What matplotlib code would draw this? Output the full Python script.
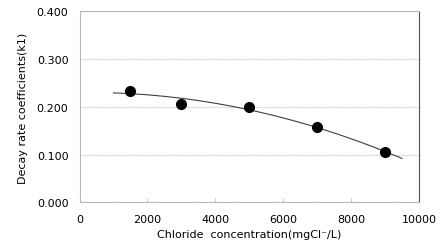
import numpy as np
import matplotlib
matplotlib.use("Agg")
import matplotlib.pyplot as plt

chloride = [1500, 3000, 5000, 7000, 9000]
k1 = [0.233, 0.207, 0.200, 0.158, 0.105]
trend_range = [1000, 9500]
xticks = [0, 2000, 4000, 6000, 8000, 10000]
yticks = [0.0, 0.1, 0.2, 0.3, 0.4]

fig = plt.figure(figsize=(4.42, 2.53), dpi=100)
ax = fig.add_axes([0.18, 0.196, 0.768, 0.755])

coef = np.polyfit(chloride, k1, 2)
xs = np.linspace(trend_range[0], trend_range[1], 200)
ax.plot(xs, np.polyval(coef, xs), color="#404040", lw=0.8, zorder=2)
ax.plot(chloride, k1, "o", color="black", ms=7, zorder=3)

ax.set_xlim(0, 10000)
ax.set_ylim(0, 0.4)
ax.set_xticks(xticks)
ax.set_yticks(yticks)
ax.set_yticklabels([f"{v:.3f}" for v in yticks])
ax.tick_params(axis="x", direction="in", length=3, color="#cccccc", labelsize=8, pad=8)
ax.tick_params(axis="y", length=0, labelsize=8, pad=8)
ax.yaxis.grid(True, color="#d0d0d0", lw=0.8, ls=(0, (1, 0.5)))
ax.set_axisbelow(True)
for s in ["left", "bottom", "top"]:
    ax.spines[s].set_color("#b8b8b8")
    ax.spines[s].set_linewidth(0.8)
ax.spines["right"].set_color("#505050")
ax.spines["right"].set_linewidth(0.8)

ax.set_xlabel("Chloride  concentration(mgCl\u207b/L)", fontsize=8, labelpad=4)
ax.set_ylabel("Decay rate coefficients(k1)", fontsize=8, labelpad=6)

fig.savefig("out.png", dpi=100)
